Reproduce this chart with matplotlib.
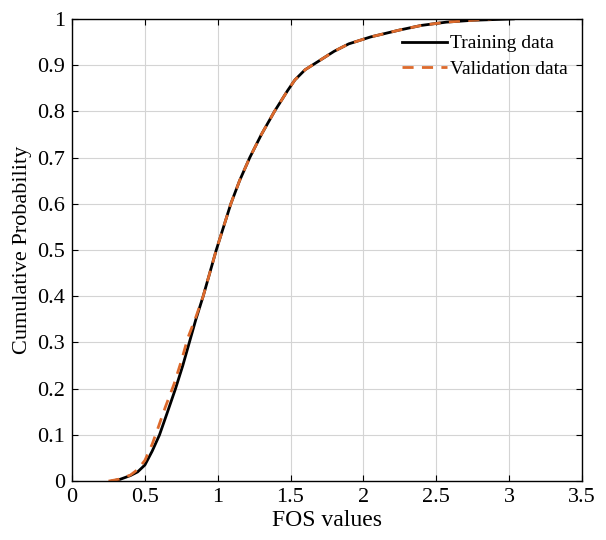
import matplotlib
matplotlib.use("Agg")
import matplotlib.pyplot as plt

# CDF (FOS value, cumulative probability)
train_x = [0.27, 0.33, 0.40, 0.45, 0.50, 0.55, 0.60, 0.65, 0.71, 0.76, 0.805, 0.85, 0.90,
           0.945, 0.99, 1.04, 1.09, 1.15, 1.22, 1.30, 1.39, 1.48, 1.53, 1.60, 1.70, 1.80,
           1.90, 2.05, 2.25, 2.40, 2.57, 2.75, 3.03]
train_y = [0.0, 0.004, 0.012, 0.02, 0.035, 0.065, 0.10, 0.145, 0.20, 0.25, 0.30, 0.35, 0.40,
           0.45, 0.50, 0.55, 0.60, 0.65, 0.70, 0.75, 0.80, 0.845, 0.868, 0.89, 0.91, 0.93,
           0.946, 0.961, 0.976, 0.986, 0.993, 0.997, 1.0]

val_x = [0.25, 0.32, 0.40, 0.45, 0.50, 0.55, 0.59, 0.64, 0.70, 0.75, 0.795, 0.85, 0.90,
         0.945, 0.99, 1.04, 1.09, 1.15, 1.22, 1.30, 1.39, 1.48, 1.53, 1.60, 1.70, 1.80,
         1.90, 2.05, 2.25, 2.40, 2.57, 2.88]
val_y = [0.0, 0.004, 0.013, 0.025, 0.045, 0.08, 0.115, 0.16, 0.21, 0.26, 0.31, 0.355, 0.40,
         0.45, 0.50, 0.55, 0.60, 0.65, 0.70, 0.75, 0.80, 0.845, 0.868, 0.89, 0.91, 0.93,
         0.946, 0.961, 0.976, 0.986, 0.993, 1.0]

x_ticks = [0, 0.5, 1, 1.5, 2, 2.5, 3, 3.5]
y_ticks = [0, 0.1, 0.2, 0.3, 0.4, 0.5, 0.6, 0.7, 0.8, 0.9, 1]

plt.rcParams["font.family"] = ["Liberation Serif", "DejaVu Serif"]

fig = plt.figure(figsize=(6.06, 5.4), dpi=100)
ax = fig.add_axes([0.119, 0.109, 0.841, 0.856])

ax.plot(train_x, train_y, color="black", lw=2, label="Training data")
ax.plot(val_x, val_y, color="#dd6a2c", lw=2, ls=(0, (4, 3)), label="Validation data")

ax.set_xlim(0, 3.5)
ax.set_ylim(0, 1)
ax.set_xticks(x_ticks)
ax.set_xticklabels([f"{t:g}" for t in x_ticks])
ax.set_yticks(y_ticks)
ax.set_yticklabels([f"{t:g}" for t in y_ticks])
ax.tick_params(direction="in", top=True, right=True, labelsize=16, length=4)
ax.tick_params(axis="y", pad=5)
ax.tick_params(axis="x", pad=5)
ax.grid(True, color="#d4d4d4", lw=0.8)
for s in ax.spines.values():
    s.set_linewidth(1.0)

ax.set_xlabel("FOS values", fontsize=17, labelpad=2)
ax.set_ylabel("Cumulative Probability", fontsize=16, labelpad=4)

ax.legend(loc="upper right", frameon=False, fontsize=14, handlelength=2.3,
          handletextpad=0.2, borderaxespad=0.3, labelspacing=0.4,
          bbox_to_anchor=(1.0, 0.995))

fig.savefig("out.png", dpi=100)
